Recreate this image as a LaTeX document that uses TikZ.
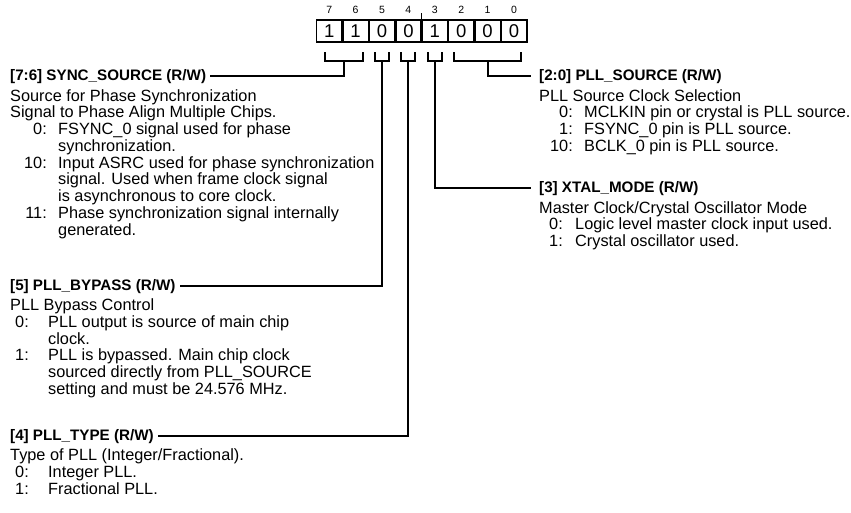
\documentclass[tikz,border=0pt]{standalone}
\usepackage{fontspec}
\setmainfont{Liberation Sans}
\begin{document}
\begin{tikzpicture}[x=1pt,y=-1pt,
  ln/.style={anchor=base west, inner sep=0pt, font=\fontsize{16.3}{17}\selectfont},
  ttl/.style={anchor=base west, inner sep=0pt, font=\fontsize{15.2}{17}\selectfont\bfseries},
  num/.style={anchor=base east, inner sep=0pt, font=\fontsize{16.3}{17}\selectfont},
  cell/.style={draw, line width=1.6pt, minimum width=25.4pt, minimum height=22.4pt, inner sep=0pt, font=\fontsize{18.5}{18.5}\selectfont},
  bitno/.style={inner sep=0pt, font=\fontsize{10.5}{10.5}\selectfont},
  conn/.style={line width=2pt},
  brk/.style={line width=2pt},
]
\useasboundingbox (0,0) rectangle (851,512);
% register cells
\node[cell] (c7) at (329.2,31) {1};
\node[cell] (c6) at (355.6,31) {1};
\node[cell] (c5) at (382.0,31) {0};
\node[cell] (c4) at (408.4,31) {0};
\node[cell] (c3) at (434.8,31) {1};
\node[cell] (c2) at (461.2,31) {0};
\node[cell] (c1) at (487.6,31) {0};
\node[cell] (c0) at (514.0,31) {0};
% bit numbers
\node[bitno] (n7) at (329.2,9.5) {7};
\node[bitno] (n6) at (355.6,9.5) {6};
\node[bitno] (n5) at (382.0,9.5) {5};
\node[bitno] (n4) at (408.4,9.5) {4};
\node[bitno] (n3) at (434.8,9.5) {3};
\node[bitno] (n2) at (461.2,9.5) {2};
\node[bitno] (n1) at (487.6,9.5) {1};
\node[bitno] (n0) at (514.0,9.5) {0};
\draw[line width=1pt] (421.6,19.5) -- (421.6,13);
% brackets
\draw[brk] (324.5,52) |- (363,61) -- (363,52);
\draw[brk] (375,52) |- (389,61) -- (389,52);
\draw[brk] (401.4,52) |- (415.4,61) -- (415.4,52);
\draw[brk] (427.8,52) |- (441.8,61) -- (441.8,52);
\draw[brk] (454,52) |- (520.5,61) -- (520.5,52);
\coordinate (b76) at (343.5,61);
\coordinate (b5) at (382.0,61);
\coordinate (b4) at (408.4,61);
\coordinate (b3) at (434.8,61);
\coordinate (b20) at (487.6,61);

% ---- [7:6] SYNC_SOURCE
\node[ttl] (sync) at (10,80) {[7:6] SYNC\_SOURCE (R/W)};
\node[ln] (s1) at (10,101) {Source for Phase Synchronization};
\node[ln] (s2) at (10,117.75) {Signal to Phase Align Multiple Chips.};
\node[num] (s3n) at (47,134.5) {0:};
\node[ln] (s3) at (58,134.5) {FSYNC\_0 signal used for phase};
\node[ln] (s4) at (58,151.25) {synchronization.};
\node[num] (s5n) at (47,168) {10:};
\node[ln] (s5) at (58,168) {Input ASRC used for phase synchronization};
\node[ln] (s6) at (58,184.75) {signal. Used when frame clock signal};
\node[ln] (s7) at (58,201.5) {is asynchronous to core clock.};
\node[num] (s8n) at (47,218.25) {11:};
\node[ln] (s8) at (58,218.25) {Phase synchronization signal internally};
\node[ln] (s9) at (58,235) {generated.};

% ---- [5] PLL_BYPASS
\node[ttl] (byp) at (10,290) {[5] PLL\_BYPASS (R/W)};
\node[ln] (p1) at (10,310.5) {PLL Bypass Control};
\node[num] (p2n) at (29,327.25) {0:};
\node[ln] (p2) at (48,327.25) {PLL output is source of main chip};
\node[ln] (p3) at (48,344) {clock.};
\node[num] (p4n) at (29,360.75) {1:};
\node[ln] (p4) at (48,360.75) {PLL is bypassed. Main chip clock};
\node[ln] (p5) at (48,377.5) {sourced directly from PLL\_SOURCE};
\node[ln] (p6) at (48,394.25) {setting and must be 24.576 MHz.};

% ---- [4] PLL_TYPE
\node[ttl] (typ) at (10,440) {[4] PLL\_TYPE (R/W)};
\node[ln] (t1) at (10,460.5) {Type of PLL (Integer/Fractional).};
\node[num] (t2n) at (29,477.25) {0:};
\node[ln] (t2) at (48,477.25) {Integer PLL.};
\node[num] (t3n) at (29,494) {1:};
\node[ln] (t3) at (48,494) {Fractional PLL.};

% ---- [2:0] PLL_SOURCE
\node[ttl] (src) at (539,80) {[2:0] PLL\_SOURCE (R/W)};
\node[ln] (r1) at (539,101) {PLL Source Clock Selection};
\node[num] (r2n) at (573,117.75) {0:};
\node[ln] (r2) at (584,117.75) {MCLKIN pin or crystal is PLL source.};
\node[num] (r3n) at (573,134.5) {1:};
\node[ln] (r3) at (584,134.5) {FSYNC\_0 pin is PLL source.};
\node[num] (r4n) at (573,151.25) {10:};
\node[ln] (r4) at (584,151.25) {BCLK\_0 pin is PLL source.};

% ---- [3] XTAL_MODE
\node[ttl] (xtal) at (539,192) {[3] XTAL\_MODE (R/W)};
\node[ln] (x1) at (539,213) {Master Clock/Crystal Oscillator Mode};
\node[num] (x2n) at (563,229.75) {0:};
\node[ln] (x2) at (575,229.75) {Logic level master clock input used.};
\node[num] (x3n) at (563,246.5) {1:};
\node[ln] (x3) at (575,246.5) {Crystal oscillator used.};

% connectors
\draw[conn] (b76) |- ([xshift=4pt]sync.east);
\draw[conn] (b5) |- ([xshift=4pt]byp.east);
\draw[conn] (b4) |- ([xshift=4pt]typ.east);
\draw[conn] (b3) |- ([xshift=-8pt]xtal.west);
\draw[conn] (b20) |- ([xshift=-8pt]src.west);
\end{tikzpicture}
\end{document}
